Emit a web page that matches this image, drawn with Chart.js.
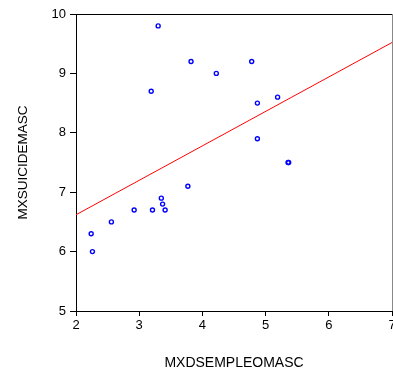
<!DOCTYPE html>
<html>
<head>
<meta charset="utf-8">
<script src="https://cdn.jsdelivr.net/npm/chart.js@4.4.0/dist/chart.umd.min.js"></script>
<style>
  html, body { margin: 0; padding: 0; background: #fff; overflow: hidden; }
  #wrap { width: 393px; height: 370px; overflow: hidden; }
  #wrap canvas { display: block; }
</style>
</head>
<body>
<div id="wrap"><canvas id="scatterChart" width="400" height="370" style="width:400px;height:370px"></canvas></div>
<script>
// desempleo vs suicidio (hombres)
const desempleo = [3.30, 3.82, 4.22, 4.78, 3.19, 4.87, 5.19, 4.87, 5.355, 5.365, 3.77, 3.35, 3.37, 3.41, 3.21, 2.92, 2.56, 2.24, 2.26];
const suicidio  = [9.8, 9.2, 9.0, 9.2, 8.7, 8.5, 8.6, 7.9, 7.5, 7.5, 7.1, 6.9, 6.8, 6.7, 6.7, 6.7, 6.5, 6.3, 6.0];

// recta de regresion (extremos)
const rectaX = [2, 7];
const rectaY = [6.62, 9.52];

const xTicks = [2, 3, 4, 5, 6, 7];
const yTicks = [5, 6, 7, 8, 9, 10];

const fontFamily = '"Liberation Sans", Arial, sans-serif';

const puntos = desempleo.map(function (x, i) { return { x: x, y: suicidio[i] }; });
const recta = rectaX.map(function (x, i) { return { x: x, y: rectaY[i] }; });

// marco superior y derecho del area de datos
const marco = {
    id: 'marco',
    afterDraw: function (chart) {
        const a = chart.chartArea;
        const c = chart.ctx;
        c.save();
        c.lineWidth = 1;
        c.strokeStyle = '#000';
        c.beginPath();
        c.moveTo(Math.round(a.left), Math.round(a.top) + 0.5);
        c.lineTo(Math.round(a.right), Math.round(a.top) + 0.5);
        c.stroke();
        c.strokeStyle = '#888';
        c.beginPath();
        c.moveTo(Math.round(a.right) + 0.5, Math.round(a.top));
        c.lineTo(Math.round(a.right) + 0.5, Math.round(a.bottom));
        c.stroke();
        c.restore();
    }
};

const ctx = document.getElementById('scatterChart').getContext('2d');
const scatterChart = new Chart(ctx, {
    type: 'scatter',
    data: {
        datasets: [
            {
                label: 'MXSUICIDEMASC',
                data: puntos,
                pointStyle: 'circle',
                pointRadius: 2,
                pointBorderWidth: 1.4,
                pointBorderColor: '#0000ff',
                pointBackgroundColor: 'rgba(255,255,255,0)',
                order: 1
            },
            {
                label: 'Ajuste',
                data: recta,
                showLine: true,
                borderColor: '#ff0000',
                borderWidth: 1,
                pointRadius: 0,
                order: 2
            }
        ]
    },
    plugins: [marco],
    options: {
        responsive: false,
        animation: false,
        layout: { padding: { top: 14, right: 8, left: 0, bottom: 0 } },
        plugins: {
            legend: { display: false },
            tooltip: { enabled: false }
        },
        scales: {
            x: {
                type: 'linear',
                min: 2,
                max: 7,
                afterBuildTicks: function (scale) {
                    scale.ticks = xTicks.map(function (v) { return { value: v }; });
                },
                afterFit: function (scale) { scale.height = 59; },
                grid: { drawOnChartArea: false, drawTicks: true, tickLength: 5, tickColor: '#000' },
                border: { color: '#000', width: 1 },
                ticks: { color: '#000', font: { family: fontFamily, size: 13 }, padding: 2, maxRotation: 0 },
                title: {
                    display: true,
                    text: 'MXDSEMPLEOMASC',
                    color: '#000',
                    font: { family: fontFamily, size: 14, lineHeight: 1.05 },
                    padding: { top: 0, bottom: 0 }
                }
            },
            y: {
                type: 'linear',
                min: 5,
                max: 10,
                afterBuildTicks: function (scale) {
                    scale.ticks = yTicks.map(function (v) { return { value: v }; });
                },
                afterFit: function (scale) { scale.width = 76; },
                grid: { drawOnChartArea: false, drawTicks: true, tickLength: 6, tickColor: '#000' },
                border: { color: '#000', width: 1 },
                ticks: { color: '#000', font: { family: fontFamily, size: 13 }, padding: 4 },
                title: {
                    display: true,
                    text: 'MXSUICIDEMASC',
                    color: '#000',
                    font: { family: fontFamily, size: 13.5 },
                    padding: { top: 15, bottom: 0 }
                }
            }
        }
    }
});
</script>
</body>
</html>
